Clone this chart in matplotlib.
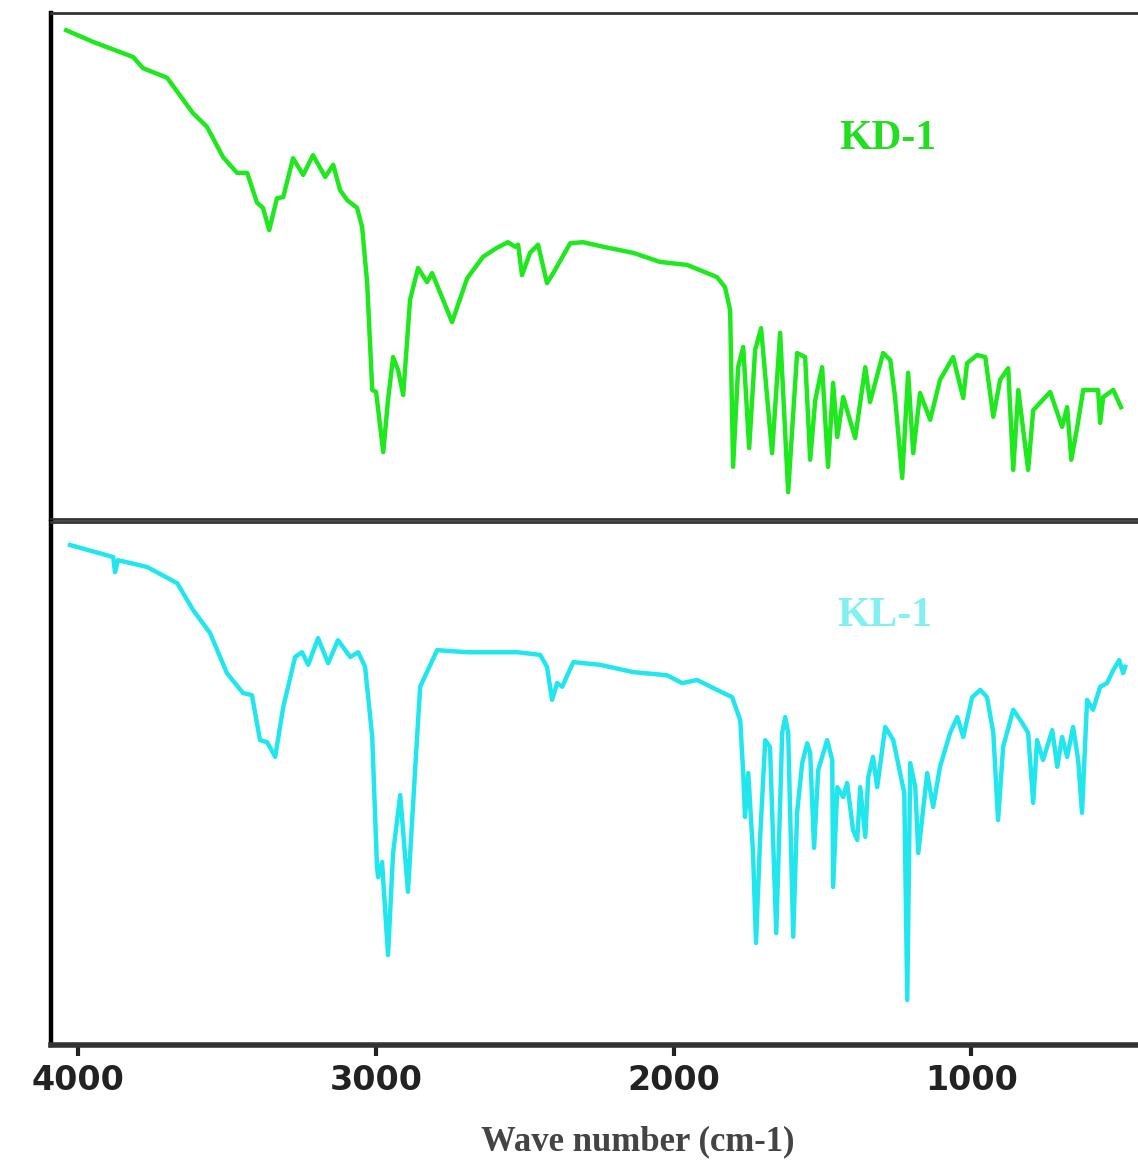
import numpy as np
import matplotlib
matplotlib.use("Agg")
import matplotlib.pyplot as plt

# KD-1 spectrum (wavenumber, transmittance)
kd_wn = [4040, 3950, 3815, 3782, 3701, 3614, 3567, 3513, 3466, 3432, 3399, 3379, 3358,
         3332, 3311, 3278, 3244, 3211, 3170, 3143, 3120, 3096, 3063, 3046, 3029, 3012,
         2999, 2975, 2959, 2942, 2925, 2908, 2885, 2858, 2828, 2811, 2774, 2744, 2693,
         2640, 2593, 2556, 2532, 2522, 2509, 2482, 2455, 2425, 2404, 2347, 2304, 2236,
         2136, 2045, 1954, 1854, 1827, 1810, 1800, 1783, 1766, 1746, 1726, 1706, 1669,
         1642, 1615, 1585, 1558, 1541, 1524, 1501, 1481, 1464, 1450, 1430, 1390, 1356,
         1340, 1296, 1272, 1256, 1232, 1212, 1195, 1172, 1138, 1105, 1061, 1027, 1014,
         980, 953, 926, 903, 876, 859, 842, 809, 792, 735, 695, 678, 664, 644, 624, 574,
         567, 557, 523, 497]
kd_t = [96.6, 94.3, 91.3, 89.1, 87.2, 80.2, 77.5, 71.5, 68.4, 68.4, 62.5, 61.5, 57.1,
        63.4, 63.6, 71.3, 68.0, 71.9, 67.6, 70.0, 65.0, 63.0, 61.5, 57.7, 46.6, 25.5,
        25.1, 13.2, 23.5, 32.0, 29.4, 24.5, 43.3, 49.6, 46.8, 48.6, 43.3, 38.9, 47.6,
        51.8, 53.6, 54.7, 53.8, 54.2, 48.2, 52.6, 54.2, 46.6, 48.6, 54.5, 54.7, 53.8,
        52.6, 50.8, 50.2, 47.8, 45.8, 41.3, 10.3, 30.0, 34.0, 14.0, 33.4, 37.7, 13.0,
        36.8, 5.3, 32.8, 32.0, 11.7, 23.5, 30.0, 10.3, 26.9, 16.2, 24.1, 16.0, 30.0,
        23.1, 32.8, 31.4, 24.1, 8.1, 28.9, 13.0, 24.9, 19.6, 27.5, 32.0, 23.9, 30.8,
        32.4, 32.0, 20.2, 27.5, 29.8, 9.7, 25.5, 9.7, 21.5, 25.1, 18.2, 22.1, 11.7, 18.2,
        25.5, 25.5, 19.0, 24.1, 25.5, 22.1]

# KL-1 spectrum (wavenumber, transmittance)
kl_wn = [4027, 3882, 3876, 3866, 3768, 3667, 3614, 3557, 3500, 3446, 3416, 3389, 3365,
         3338, 3311, 3271, 3248, 3227, 3194, 3160, 3127, 3086, 3059, 3036, 3012, 2996,
         2992, 2979, 2959, 2942, 2918, 2892, 2868, 2851, 2794, 2693, 2616, 2525, 2448,
         2425, 2408, 2391, 2374, 2337, 2247, 2136, 2022, 1971, 1921, 1854, 1803, 1776,
         1766, 1760, 1749, 1733, 1723, 1709, 1692, 1676, 1655, 1635, 1625, 1615, 1598,
         1585, 1568, 1551, 1541, 1528, 1514, 1484, 1467, 1464, 1450, 1430, 1417, 1397,
         1383, 1373, 1356, 1346, 1330, 1316, 1289, 1262, 1239, 1225, 1215, 1205, 1188,
         1178, 1148, 1128, 1105, 1071, 1047, 1027, 997, 970, 947, 926, 910, 893, 859,
         829, 809, 792, 779, 759, 728, 711, 695, 678, 658, 641, 628, 611, 591, 567, 544,
         523, 503, 490, 483]
kl_t = [95.6, 93.3, 90.4, 92.7, 91.4, 88.3, 83.2, 78.8, 71.1, 67.3, 66.9, 58.3, 57.9,
        55.1, 64.6, 74.2, 75.1, 72.7, 77.8, 73.0, 77.4, 74.2, 75.1, 72.3, 58.9, 34.0,
        32.1, 35.0, 17.2, 36.7, 47.8, 29.3, 52.6, 68.5, 75.5, 75.1, 75.1, 75.1, 74.6,
        72.3, 66.0, 69.2, 68.5, 73.2, 72.7, 71.3, 70.7, 69.2, 69.8, 67.9, 66.5, 62.1,
        52.0, 43.6, 52.0, 36.7, 19.5, 39.8, 58.3, 57.0, 21.4, 59.7, 62.7, 59.7, 20.7,
        44.4, 53.9, 57.7, 55.8, 37.7, 52.6, 58.3, 54.5, 30.2, 49.3, 47.4, 50.1, 41.1,
        39.2, 49.3, 39.8, 51.2, 55.1, 49.3, 60.8, 58.3, 52.0, 48.2, 8.6, 53.9, 49.3,
        36.7, 52.0, 45.5, 53.2, 59.7, 62.7, 58.9, 66.5, 67.9, 66.5, 59.7, 43.0, 57.0, 64.1,
        61.6, 59.7, 46.3, 58.3, 54.5, 60.2, 53.2, 58.9, 55.1, 60.8, 54.5, 44.4, 66.0, 64.1,
        68.5, 69.2, 71.7, 73.6, 71.1, 72.3]

xticks = [4000, 3000, 2000, 1000]
labels = ["KD-1", "KL-1"]

fig = plt.figure(figsize=(11.38, 11.6), dpi=100)
fig.patch.set_facecolor("white")

ax1 = fig.add_axes([0.0448, 0.5526, 0.9552, 0.4362])
ax2 = fig.add_axes([0.0448, 0.0991, 0.9552, 0.4509])

ax1.plot(kd_wn, kd_t, color="#1fe81f", lw=3.2, solid_joinstyle="round")
ax2.plot(kl_wn, kl_t, color="#22e6ee", lw=3.2, solid_joinstyle="round")

for ax in (ax1, ax2):
    ax.set_xlim(4091, 440)
    ax.set_ylim(0, 100)
    ax.set_yticks([])
    ax.spines["right"].set_visible(False)
    ax.spines["left"].set_linewidth(3.2)
    ax.spines["left"].set_color("black")
    for s in ("top", "bottom"):
        ax.spines[s].set_linewidth(2.0)
        ax.spines[s].set_color("#333333")

ax1.set_xticks([])
ax2.set_xticks(xticks)
ax2.set_xticklabels([str(t) for t in xticks], fontsize=24, fontweight="bold",
                    family="DejaVu Sans", color="#222222")
ax2.tick_params(axis="x", direction="out", length=8, width=3, pad=6, color="#222222")
ax2.spines["bottom"].set_linewidth(4.0)

ax1.text(1279, 75, labels[0], color="#22dd22", fontsize=30, fontweight="bold",
         family="Liberation Serif", ha="center", va="center")
ax2.text(1289, 82, labels[1], color="#80f0f0", fontsize=30, fontweight="bold",
         family="Liberation Serif", ha="center", va="center")

fig.text(0.56, 0.016, "Wave number (cm-1)", fontsize=25, fontweight="bold",
         family="Liberation Serif", color="#444444", ha="center", va="center")

fig.savefig("out.png", dpi=100)
